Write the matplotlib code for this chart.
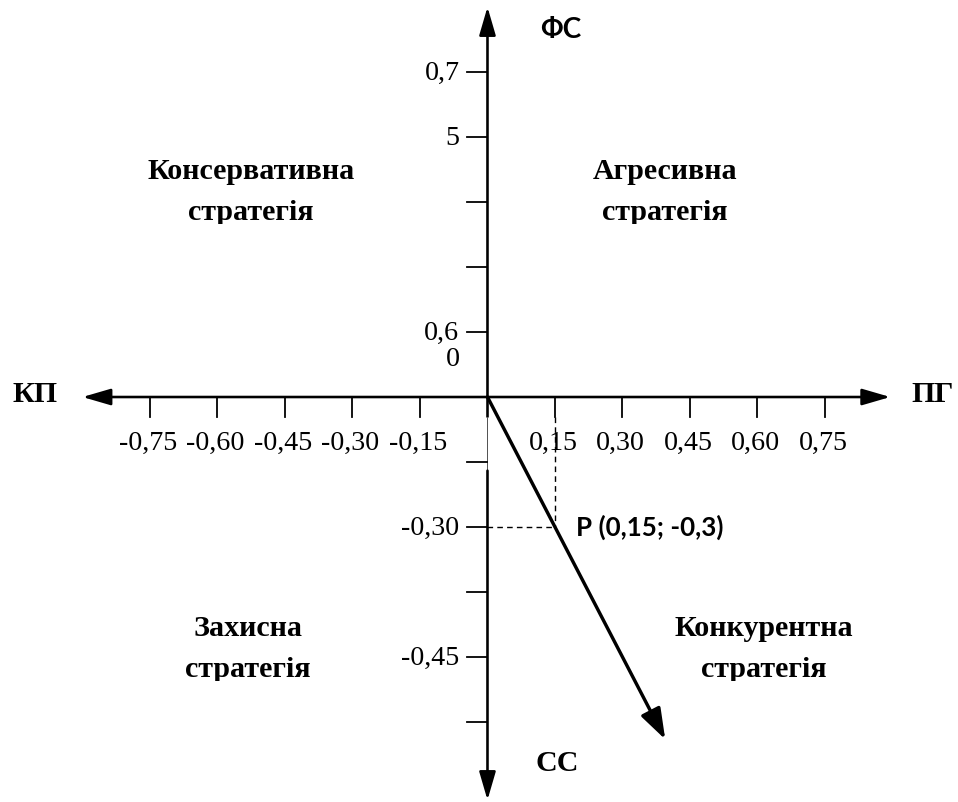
import matplotlib
matplotlib.use('Agg')
import matplotlib.pyplot as plt
from matplotlib.transforms import Bbox, TransformedBbox

plt.rcParams['font.family'] = ['Liberation Serif', 'DejaVu Serif']
SANS = ['Lato', 'Open Sans', 'DejaVu Sans']

# значення на осях
x_ticks = [-0.75, -0.60, -0.45, -0.30, -0.15, 0.15, 0.30, 0.45, 0.60, 0.75]
x_labels = ['-0,75', '-0,60', '-0,45', '-0,30', '-0,15', '0,15', '0,30', '0,45', '0,60', '0,75']
y_ticks = [0.75, 0.60, 0.45, 0.30, 0.15, -0.15, -0.30, -0.45, -0.60, -0.75]
y_labels = ['0,7', '5', '', '', '0,6', '', '-0,30', '', '-0,45', '']
extra_y_label = ('0', 0.086)

# точка P і вектор
p_point = (0.15, -0.30)
vector_end = (0.395, -0.79)
p_text = 'P (0,15; -0,3)'

# квадранти
quadrants = [
    (['Консервативна', 'стратегія'], -0.525, 0.52),
    (['Агресивна', 'стратегія'], 0.395, 0.52),
    (['Захисна', 'стратегія'], -0.532, -0.535),
    (['Конкурентна', 'стратегія'], 0.615, -0.535),
]
axis_names = {'КП': (-1.005, 0.005), 'ПГ': (0.99, 0.005), 'СС': (0.155, -0.845)}
fs_name = ('ФС', (0.162, 0.847))

fig = plt.figure(figsize=(958 / 72, 802 / 72), dpi=72)
ax = fig.add_axes([0, 0, 1, 1])
ax.set_xlim(-1.0833, 1.0456)
ax.set_ylim(-0.9346, 0.9162)
ax.axis('off')

arrow_kw = dict(color='black', lw=2.6, shrinkA=0, shrinkB=0, mutation_scale=20)
# горизонтальна вісь
ax.annotate('', xy=(0.895, 0), xytext=(-0.90, 0),
            arrowprops=dict(arrowstyle='<|-|>,head_length=1.2,head_width=0.35', **arrow_kw))
# вертикальна вісь
ax.annotate('', xy=(0, 0.90), xytext=(0, 0),
            arrowprops=dict(arrowstyle='-|>,head_length=1.2,head_width=0.35', **arrow_kw))
ax.plot([0, 0], [0, -0.045], color='black', lw=2.6, solid_capstyle='butt')
ax.plot([-0.002, -0.002], [-0.045, -0.17], color='#555555', lw=1.0)
ax.annotate('', xy=(0, -0.93), xytext=(0, -0.17),
            arrowprops=dict(arrowstyle='-|>,head_length=1.2,head_width=0.35', **arrow_kw))

# поділки
tick_dx = 0.046
tick_dy = 0.046
for x, lab in zip(x_ticks, x_labels):
    ax.plot([x, x], [0, -tick_dy], color='black', lw=1.8)
    ax.annotate(lab, xy=(x, 0), xytext=(-2, -46), textcoords='offset points',
                ha='center', va='center', fontsize=28)
for y, lab in zip(y_ticks, y_labels):
    ax.plot([-tick_dx, 0], [y, y], color='black', lw=1.8)
    if lab:
        ax.annotate(lab, xy=(0, y), xytext=(-28, -1), textcoords='offset points',
                    ha='right', va='center', fontsize=28)
ax.annotate(extra_y_label[0], xy=(0, extra_y_label[1]), xytext=(-28, 0),
            textcoords='offset points', ha='right', va='center', fontsize=28)

# пунктир до точки P
ax.plot([p_point[0], p_point[0]], [-tick_dy, p_point[1]], color='black', lw=1.4, ls=(0, (4, 3)))
ax.plot([0, p_point[0]], [p_point[1], p_point[1]], color='black', lw=1.4, ls=(0, (4, 3)))

# вектор
ax.annotate('', xy=vector_end, xytext=(0, 0),
            arrowprops=dict(arrowstyle='-|>,head_length=1.3,head_width=0.45',
                            color='black', lw=3.4, shrinkA=0, shrinkB=0, mutation_scale=20))
ax.annotate(p_text, xy=p_point, xytext=(21, 0), textcoords='offset points',
            ha='left', va='center', fontsize=26, fontweight='bold', family=SANS)

# назви осей
for name, (x, y) in axis_names.items():
    ax.text(x, y, name, ha='center', va='center', fontsize=30, fontweight='bold')
ax.text(fs_name[1][0], fs_name[1][1], fs_name[0], ha='center', va='center',
        fontsize=28, fontweight='bold', family=SANS)

# назви стратегій (другий рядок обрізаний знизу, як в оригіналі)
line_gap = 0.094
for lines, x, y in quadrants:
    ax.text(x, y, lines[0], ha='center', va='center', fontsize=30, fontweight='bold')
    t = ax.text(x, y - line_gap, lines[1], ha='center', va='center', fontsize=30,
                fontweight='bold', clip_on=True)
    box = Bbox([[x - 0.5, y - line_gap - 0.027], [x + 0.5, y - line_gap + 0.2]])
    t.set_clip_box(TransformedBbox(box, ax.transData))

fig.savefig('out.png', dpi=72)
